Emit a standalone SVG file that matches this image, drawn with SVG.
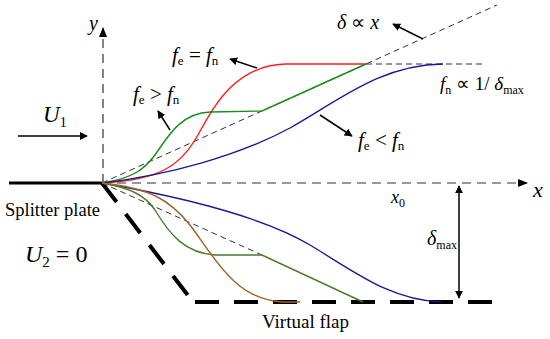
<svg xmlns="http://www.w3.org/2000/svg" width="550" height="339" viewBox="0 0 550 339">
<defs>
<marker id="ah" viewBox="0 0 10 10" refX="9" refY="5" markerWidth="8" markerHeight="8" markerUnits="userSpaceOnUse" orient="auto-start-reverse"><path d="M0,0 L10,5 L0,10 z" fill="#000"/></marker>
<marker id="ahs" viewBox="0 0 10 10" refX="9" refY="5" markerWidth="10" markerHeight="10" markerUnits="userSpaceOnUse" orient="auto-start-reverse"><path d="M0,1 L10,5 L0,9 z" fill="#000"/></marker>
<style>
text{font-family:"Liberation Serif","Times New Roman",serif;fill:#000}
.i{font-style:italic}
.axis{stroke:#333;stroke-width:1.2;stroke-dasharray:9 6;fill:none}
.thin{stroke:#333;stroke-width:1;stroke-dasharray:6 4;fill:none}
.flap{stroke:#000;stroke-width:4;stroke-dasharray:24 15;fill:none}
.c{fill:none;stroke-width:1.4}
.ar{stroke:#000;stroke-width:1.5;fill:none;marker-end:url(#ah)}
</style>
</defs>
<g id="splitter-plate">
<line x1="9" y1="183" x2="102" y2="183" stroke="#000" stroke-width="3"/>
<text x="5" y="216" font-size="18.5" font-family="Liberation Serif, serif">Splitter plate</text>
</g>
<g id="axes">
<line class="axis" x1="102" y1="183" x2="527" y2="183" marker-end="url(#ahs)"/>
<line class="axis" x1="103" y1="183" x2="103" y2="28" marker-end="url(#ahs)"/>
<text class="i" x="533" y="197" font-size="22">x</text>
<text class="i" x="89" y="30" font-size="20">y</text>
</g>
<g id="virtual-flap">
<line class="flap" x1="102" y1="183" x2="193" y2="302"/>
<line class="flap" x1="195" y1="302" x2="493" y2="302"/>
<text x="262" y="328" font-size="19" font-family="Liberation Serif, serif">Virtual flap</text>
</g>
<g id="connectors">
<line class="thin" x1="102" y1="183" x2="497" y2="5"/>
<line class="thin" x1="366" y1="64" x2="485" y2="64"/>
<line class="thin" x1="102" y1="183" x2="262" y2="255"/>
<path class="c" stroke="#ff1a1a" d="M102,183 C160,180 180,165 195,140 C210,115 230,66 285,64 L366,64"/>
<path class="c" stroke="#1a8c1a" d="M102,183 C135,178 145,168 155,155 C167,138 180,113 210,112 L262,111 L366,64"/>
<path class="c" stroke="#1a1a8c" d="M102,183 C170,175 240,155 290,128 C340,100 380,65 443,64"/>
<path class="c" stroke="#1a1a8c" d="M102,183 C170,195 260,215 310,245 C355,272 390,300 441,302"/>
<path class="c" stroke="#4a7a28" d="M102,183 C130,188 145,195 155,210 C170,235 185,253 215,255 L262,255 L363,302"/>
<path class="c" stroke="#a0642a" d="M102,183 C150,188 170,200 190,225 C215,258 235,300 283,302 L300,302"/>
<line class="ar" x1="18" y1="136" x2="87" y2="136"/>
<line class="ar" x1="257" y1="68" x2="230" y2="59"/>
<line class="ar" x1="170" y1="130" x2="158" y2="111"/>
<line class="ar" x1="423" y1="39" x2="393" y2="24"/>
<line class="ar" x1="320" y1="115" x2="352" y2="136"/>
<line stroke="#000" stroke-width="1.5" x1="459" y1="186" x2="459" y2="298" marker-start="url(#ah)" marker-end="url(#ah)"/>
</g>
<g id="labels">
<text class="i" x="43" y="122" font-size="23">U<tspan font-style="normal" font-size="14" dy="5">1</tspan></text>
<text class="i" x="25" y="262" font-size="24">U<tspan font-style="normal" font-size="15" dy="5">2</tspan><tspan font-style="normal" dy="-5"> = 0</tspan></text>
<text class="i" x="172" y="62" font-size="21">f<tspan font-style="normal" font-size="13" dy="3">e</tspan><tspan font-style="normal" dy="-3"> = </tspan>f<tspan font-style="normal" font-size="13" dy="3">n</tspan></text>
<text class="i" x="133" y="101" font-size="21">f<tspan font-style="normal" font-size="13" dy="3">e</tspan><tspan font-style="normal" dy="-3"> &gt; </tspan>f<tspan font-style="normal" font-size="13" dy="3">n</tspan></text>
<text class="i" x="358" y="147" font-size="21">f<tspan font-style="normal" font-size="13" dy="3">e</tspan><tspan font-style="normal" dy="-3"> &lt; </tspan>f<tspan font-style="normal" font-size="13" dy="3">n</tspan></text>
<text class="i" x="337" y="29" font-size="20">δ <tspan font-style="normal">∝</tspan> x</text>
<text class="i" x="440" y="90" font-size="19">f<tspan font-style="normal" font-size="12" dy="4">n</tspan><tspan font-style="normal" dy="-4"> ∝ 1/ </tspan>δ<tspan font-style="normal" font-size="12" dy="4">max</tspan></text>
<text class="i" x="427" y="245" font-size="20">δ<tspan font-style="normal" font-size="12" dy="4">max</tspan></text>
<text class="i" x="391" y="203" font-size="18">x<tspan font-style="normal" font-size="12" dy="4">0</tspan></text>
</g>
</svg>
